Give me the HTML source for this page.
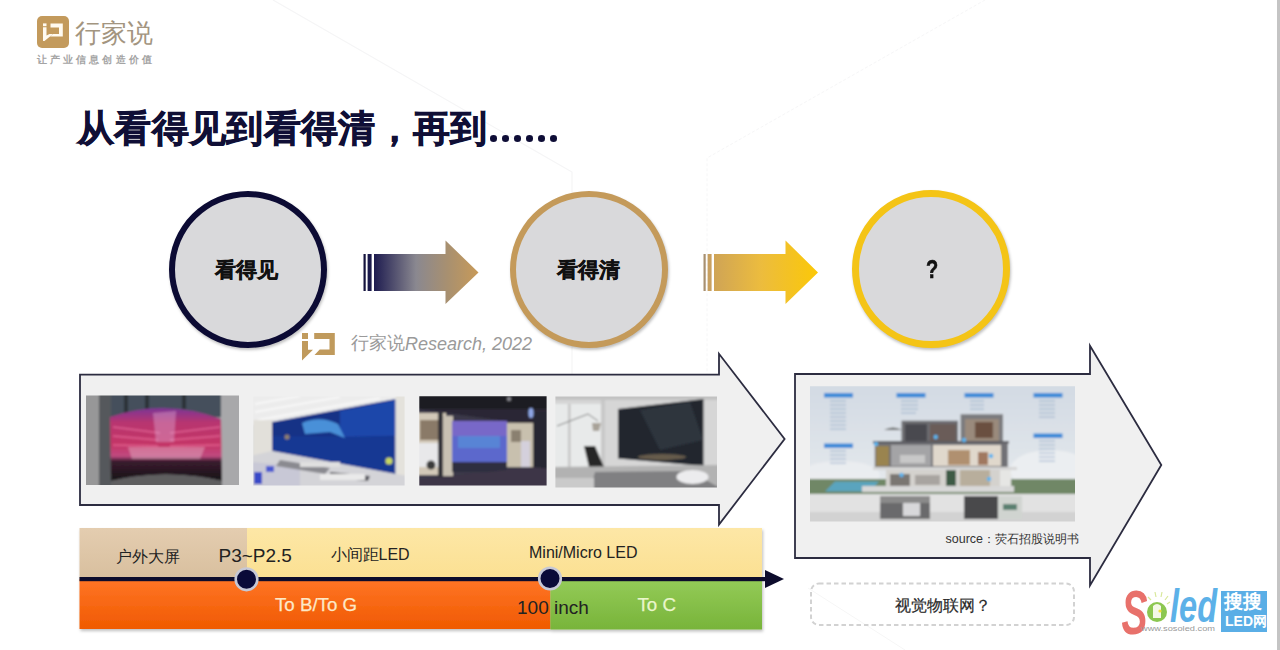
<!DOCTYPE html>
<html><head><meta charset="utf-8">
<style>
html,body{margin:0;padding:0;}
body{width:1280px;height:650px;position:relative;overflow:hidden;background:#fff;font-family:"Liberation Sans",sans-serif;}
.a{position:absolute;}
.t{position:absolute;white-space:nowrap;line-height:1;}
.circ{position:absolute;border-radius:50%;background:#d9d9db;box-sizing:border-box;box-shadow:1px 2px 3px rgba(0,0,0,0.25);}
</style></head><body>

<!-- faint bg lines -->
<svg class="a" style="left:0;top:0;" width="1280" height="650">
<path d="M273 0 L572 172 V375" stroke="#f5f5f6" stroke-width="1.2" fill="none"/>
<path d="M985 0 L707 158 V375" stroke="#f6f6f7" stroke-width="1" fill="none" stroke-dasharray="3 2"/>
<path d="M808 588 L905 650" stroke="#f6f6f6" stroke-width="1" fill="none"/>
</svg>
<!-- right edge strip -->
<div class="a" style="left:1277px;top:0;width:3px;height:650px;background:#c4c4c4;"></div>

<!-- logo -->
<div class="a" style="left:37px;top:16px;width:32px;height:32px;border-radius:5px;background:#c39a5c;"></div>
<div class="t" style="left:75px;top:19.5px;font-size:26px;color:#a39580;font-weight:300;">行家说</div>
<div class="t" style="left:37px;top:54.5px;font-size:10px;color:#a4a4a4;letter-spacing:3.1px;font-weight:bold;">让产业信息创造价值</div>

<!-- title -->
<div class="t" style="left:77px;top:110px;font-size:37px;font-weight:900;color:#100f36;-webkit-text-stroke:0.7px #100f36;letter-spacing:0.35px;">从看得见到看得清，再到</div>
<div class="a" style="left:490.2px;top:135px;width:7px;height:6.6px;border-radius:50%;background:#0e0d36;"></div><div class="a" style="left:502.2px;top:135px;width:7px;height:6.6px;border-radius:50%;background:#0e0d36;"></div><div class="a" style="left:514.2px;top:135px;width:7px;height:6.6px;border-radius:50%;background:#0e0d36;"></div><div class="a" style="left:526.2px;top:135px;width:7px;height:6.6px;border-radius:50%;background:#0e0d36;"></div><div class="a" style="left:538.2px;top:135px;width:7px;height:6.6px;border-radius:50%;background:#0e0d36;"></div><div class="a" style="left:550.2px;top:135px;width:7px;height:6.6px;border-radius:50%;background:#0e0d36;"></div>

<!-- circles -->
<div class="circ" style="left:169px;top:191px;width:158px;height:157px;border:6.5px solid #0c0b34;"></div>
<div class="circ" style="left:510px;top:191px;width:158px;height:157px;border:6px solid #c49a5a;"></div>
<div class="circ" style="left:852px;top:190px;width:158px;height:158px;border:7px solid #f4c416;"></div>
<div class="t" style="left:215px;top:258.5px;font-size:21px;font-weight:bold;color:#111;-webkit-text-stroke:0.4px #111;">看得见</div>
<div class="t" style="left:556.5px;top:259px;font-size:21px;font-weight:bold;color:#111;-webkit-text-stroke:0.4px #111;">看得清</div>
<div class="t" style="left:925.5px;top:257px;font-size:25px;font-weight:bold;color:#111;transform:scaleX(0.8);-webkit-text-stroke:0.6px #111;transform-origin:left top;">?</div>


<!-- small arrows -->
<svg class="a" style="left:0;top:0;" width="1280" height="650">
<defs>
<linearGradient id="g1" x1="374" y1="0" x2="479" y2="0" gradientUnits="userSpaceOnUse">
<stop offset="0" stop-color="#1e1c50"/><stop offset="0.4" stop-color="#8a8890"/><stop offset="0.7" stop-color="#a89070"/><stop offset="1" stop-color="#c89a58"/></linearGradient>
<linearGradient id="g2" x1="714" y1="0" x2="818" y2="0" gradientUnits="userSpaceOnUse">
<stop offset="0" stop-color="#cfa456"/><stop offset="0.45" stop-color="#ecbc3e"/><stop offset="1" stop-color="#fbc808"/></linearGradient>
</defs>
<rect x="363.5" y="254" width="2.2" height="37" fill="#14133d"/>
<rect x="367.6" y="254" width="4" height="37" fill="#1b1a4c"/>
<path d="M374 254 H445.5 V240.5 L478.5 272.5 L445.5 304 V291 H374 Z" fill="url(#g1)"/>
<rect x="703.5" y="254" width="2.2" height="37" fill="#a89070"/>
<rect x="707.6" y="254" width="4" height="37" fill="#c8a060"/>
<path d="M714 254 H785.5 V240.5 L818 272.5 L785.5 304 V291 H714 Z" fill="url(#g2)"/>
</svg>

<!-- watermark -->
<svg class="a" style="left:0;top:0;" width="1280" height="650">
<g fill="#c09a5c">
<rect x="302" y="333" width="6" height="6"/>
<path d="M302 341 H308 V349.7 H313 L302 360.5 Z"/>
<path d="M314.2 333 H334.8 V355 H314.5 L319.7 349.4 H329.5 V339 H314.2 Z"/>
</g>
<!-- logo icon white shape -->
<g fill="#fffaf0">
<rect x="43" y="23.4" width="3.5" height="2.8"/>
<path d="M43 27.2 H46.5 V35.5 L49.5 33.9 H53 L44.5 41 H43 Z"/>
<path d="M50.5 23.4 H62.8 V36.6 H50 L53 33.9 H59 V27.4 H50.5 Z"/>
</g>
</svg>
<div class="t" style="left:350.5px;top:334.5px;font-size:17.5px;color:#9a9a9a;font-family:'Liberation Serif',serif;font-weight:300;">行家说</div>
<div class="t" style="left:405px;top:334.5px;font-size:18px;color:#9a9a9a;font-style:italic;">Research, 2022</div>

<!-- big arrows -->
<svg class="a" style="left:0;top:0;" width="1280" height="650">
<path d="M80 374.6 H719 V353.8 L784.6 439 L719 524.6 V505 H80 Z" fill="#f0f0f0" stroke="#2c2c40" stroke-width="1.8"/>
<path d="M795 374 H1090 V345.8 L1161.3 465 L1090 585.5 V558 H795 Z" fill="#f0f0f0" stroke="#2c2c40" stroke-width="1.8"/>
</svg>

<!-- photos -->
<svg class="a" style="left:0;top:0;" width="1280" height="650">
<defs>
<filter id="bl" x="-10%" y="-10%" width="120%" height="120%"><feGaussianBlur stdDeviation="0.9"/></filter>
<clipPath id="c1"><rect x="86" y="395.5" width="153" height="89.5"/></clipPath>
<clipPath id="c2"><rect x="253.3" y="396.5" width="151.3" height="89"/></clipPath>
<clipPath id="c3"><rect x="419.3" y="396.2" width="127.3" height="89.2"/></clipPath>
<clipPath id="c4"><rect x="555.4" y="396.6" width="161.6" height="90.8"/></clipPath>
<clipPath id="c5"><rect x="810" y="386.2" width="265" height="135.4"/></clipPath>
<linearGradient id="scr1" x1="0" y1="0" x2="0" y2="1">
<stop offset="0" stop-color="#7c3496"/><stop offset="0.2" stop-color="#b83470"/><stop offset="0.5" stop-color="#c43466"/><stop offset="0.66" stop-color="#c04a80"/><stop offset="0.73" stop-color="#3a1c2e"/><stop offset="1" stop-color="#161216"/></linearGradient>
<linearGradient id="sky5" x1="0" y1="0" x2="0" y2="1">
<stop offset="0" stop-color="#d2dae3"/><stop offset="0.7" stop-color="#e4e8ec"/><stop offset="1" stop-color="#eceef0"/></linearGradient>
<linearGradient id="tv4" x1="0" y1="0" x2="0" y2="1">
<stop offset="0" stop-color="#1e232c"/><stop offset="0.7" stop-color="#2e3238"/><stop offset="0.85" stop-color="#8a7a62"/><stop offset="1" stop-color="#252525"/></linearGradient>
</defs>

<g clip-path="url(#c1)"><g filter="url(#bl)">
<rect x="84" y="393" width="158" height="95" fill="#8a8a8c"/>
<rect x="84" y="393" width="16" height="95" fill="#979798"/>
<rect x="99" y="393" width="12" height="95" fill="#55585c"/>
<rect x="220" y="393" width="22" height="95" fill="#a8a8aa"/>
<rect x="111" y="393" width="110" height="24" fill="#44505c"/>
<rect x="124" y="393" width="4" height="20" fill="#2a3038"/>
<rect x="145" y="393" width="4" height="16" fill="#2a3038"/>
<rect x="182" y="393" width="4" height="16" fill="#2a3038"/>
<path d="M110 417 Q165 398 221 419 L222 481 Q165 468 111 481 Z" fill="url(#scr1)"/>
<path d="M113 427 L160 433 M113 436 L158 440 M113 445 L158 446 M170 433 L220 427 M170 440 L220 436 M170 446 L220 445" stroke="#f47aa8" stroke-width="1.6" opacity="0.6"/>
<path d="M153 413 L176 411 L174 442 L156 442 Z" fill="#e0b0d8" opacity="0.4"/>
<path d="M128 447 L205 447 L200 459 L132 459 Z" fill="#f0d8e0" opacity="0.35"/>
<path d="M111 481 Q165 468 222 481 L222 488 L111 488 Z" fill="#5e5e60"/>
</g></g>
<g clip-path="url(#c2)"><g filter="url(#bl)">
<rect x="250" y="393" width="158" height="96" fill="#d6d6d8"/>
<path d="M250 393 H408 V400 L272 425 H250 Z" fill="#ececec"/>
<path d="M255 404 L300 396 M255 412 L340 397 M258 420 L380 398 M266 425 L395 401" stroke="#fbfbfb" stroke-width="1.4"/>
<rect x="253" y="420" width="20" height="40" fill="#e2e0da"/>
<path d="M272 422 L395.5 399 L395.5 474 L272 451 Z" fill="#173286"/>
<path d="M340 411 L395.5 400 L395.5 436 L340 437 Z" fill="#1e46aa"/><path d="M272 436 L395.5 437 L395.5 474 L272 451 Z" fill="#1a3a98" opacity="0.7"/>
<path d="M302 423 Q320 415 338 424 L345 438 L330 432 L305 434 Z" fill="#4a90d8"/>
<circle cx="287" cy="437" r="2.5" fill="#c0a060" opacity="0.7"/>
<circle cx="389" cy="461" r="3.5" fill="#c8d860"/>
<rect x="395.5" y="393" width="13" height="96" fill="#e4e2dc"/>
<path d="M250 456 L272 451 L395.5 474 L408 476 V489 H250 Z" fill="#d4d4d8"/>
<path d="M250 462 L300 466 L300 489 L250 489 Z" fill="#c8c8d6"/><path d="M280 460 L330 468 L325 474 L276 466 Z" fill="#8a8a90"/><path d="M330 472 L370 476 L368 481 L330 478 Z" fill="#5a5a60"/>
<rect x="254" y="472" width="8" height="12" fill="#3848c8"/>
<rect x="266" y="466" width="8" height="6" fill="#4858d0"/>
<rect x="320" y="474" width="45" height="6" fill="#eaeaea"/>
<rect x="300" y="462" width="40" height="5" fill="#e0e0e0"/>
</g></g>

<g clip-path="url(#c3)"><g filter="url(#bl)">
<rect x="416" y="393" width="134" height="96" fill="#2a2834"/>
<rect x="416" y="393" width="134" height="16" fill="#1c1c24"/>
<circle cx="509" cy="399" r="2" fill="#d8d8e0" opacity="0.6"/>
<path d="M416 409 L536 425 L536 470 L416 482 Z" fill="#3a3848"/>
<rect x="416" y="413" width="30" height="62" fill="#d2c8b8"/>
<rect x="420" y="420" width="18" height="20" fill="#8a7a68"/>
<rect x="416" y="443" width="28" height="24" fill="#e8e8ea"/>
<circle cx="431" cy="465" r="4.5" fill="#3a3a3a"/>
<rect x="438" y="413" width="5" height="68" fill="#303038"/>
<rect x="443" y="416" width="10" height="60" fill="#c8c0b2"/>
<rect x="452" y="421" width="55" height="41" fill="#5c68cc"/>
<rect x="452" y="421" width="55" height="15" fill="#7868c8"/>
<rect x="458" y="436" width="42" height="12" fill="#5890d8" opacity="0.7"/>
<rect x="452" y="462" width="55" height="10" fill="#2e2e40"/>
<rect x="507" y="423" width="26" height="44" fill="#c8c0ae"/>
<rect x="511" y="430" width="10" height="12" fill="#8a8070"/>
<rect x="533" y="412" width="17" height="62" fill="#282830"/>
<ellipse cx="531" cy="413" rx="2.5" ry="5" fill="#90a8e8"/>
<path d="M416 480 L533 467 L550 469 V489 H416 Z" fill="#3c3446"/>
<rect x="521" y="441" width="9" height="26" fill="#d4d0dc"/>
</g></g>

<g clip-path="url(#c4)"><g filter="url(#bl)">
<rect x="552" y="393" width="168" height="98" fill="#d6d6d6"/>
<rect x="552" y="393" width="168" height="7" fill="#c2c2c2"/>
<rect x="552" y="404" width="50" height="64" fill="#e8eaea"/>
<rect x="568" y="404" width="2.5" height="64" fill="#c6c6c6"/>
<rect x="601" y="400" width="4" height="68" fill="#c8c8c8"/>
<path d="M557 426 L588 414 L598 421" stroke="#7a7a7a" stroke-width="1" fill="none"/>
<path d="M592 423 L601 423 L599 431 L593 431 Z" fill="#a8a298"/>
<path d="M618 409 L703.5 399 L703.5 466 L618 458.6 Z" fill="#23272f"/>
<path d="M640 410 L690 402 L703 440 L660 450 Z" fill="#353a42" opacity="0.7"/>
<ellipse cx="662" cy="457" rx="24" ry="3" fill="#8a785c" opacity="0.65"/>
<path d="M584 446 L595 446 L604 467 L589 467 Z" fill="#262626"/>
<path d="M552 467 L720 465 V491 H552 Z" fill="#b2b2b2"/>
<path d="M595 472 L690 471 L720 488 V491 L590 491 Z" fill="#808082"/>
<rect x="552" y="478" width="42" height="13" fill="#cacaca"/>
<ellipse cx="692.5" cy="477" rx="16" ry="7" fill="#ececee"/>
</g></g>

<g clip-path="url(#c5)"><g filter="url(#bl)">
<rect x="807" y="383" width="271" height="142" fill="url(#sky5)"/>
<ellipse cx="1050" cy="470" rx="40" ry="20" fill="#eef0f2" opacity="0.8"/>
<ellipse cx="840" cy="475" rx="40" ry="14" fill="#eef0f2" opacity="0.7"/>
<rect x="807" y="479" width="271" height="15" fill="#6f8766"/>
<path d="M825 491.5 L835 481.5 L879 481.5 L870 491.5 Z" fill="#5aa4be"/>
<rect x="807" y="494" width="271" height="31" fill="#e2e2e2"/>
<rect x="807" y="512" width="271" height="13" fill="#c8c8c8" opacity="0.6"/>
<rect x="880" y="496" width="50" height="23" fill="#6a6a6c"/>
<rect x="880" y="496" width="50" height="7" fill="#8a8a8a"/>
<rect x="903" y="503" width="17" height="13" fill="#d8d8da"/>
<rect x="964" y="496" width="34" height="23" fill="#4a4a4c"/>
<rect x="998" y="496" width="24" height="23" fill="#d0d4d0"/>
<rect x="1003" y="504" width="14" height="6" fill="#5a8070"/>
<rect x="901.5" y="420.7" width="56.5" height="21.3" fill="#6c6c70"/>
<rect x="905" y="424" width="22" height="17" fill="#4a4a50"/>
<rect x="930" y="424" width="26" height="17" fill="#6a5c58"/>
<rect x="960.6" y="414.2" width="42.4" height="27.8" fill="#7a7a7e"/>
<rect x="965" y="419" width="34" height="22" fill="#9a8a7c"/>
<rect x="975" y="422" width="18" height="16" fill="#6a5040"/>
<path d="M884 430 Q893 425 902 430 Z" fill="#666"/>
<rect x="873" y="441" width="136" height="2.5" fill="#5a5a5e"/>
<rect x="874.8" y="443" width="133" height="24" fill="#707074"/>
<rect x="876" y="446" width="13" height="20" fill="#9a8450"/>
<rect x="891" y="445" width="40" height="21" fill="#a4a4a6"/>
<rect x="900" y="455" width="25" height="8" fill="#c8c8c8"/>
<rect x="933" y="445" width="68" height="21" fill="#e0d8cc"/>
<rect x="948" y="450" width="22" height="15" fill="#b09070"/>
<rect x="978" y="452" width="10" height="13" fill="#a07860"/>
<rect x="873" y="467" width="144" height="3" fill="#d6d6d6"/>
<rect x="886" y="470" width="125" height="18" fill="#d4d2ce"/>
<rect x="890" y="474" width="20" height="12" fill="#7a7672"/>
<rect x="915" y="475" width="25" height="10" fill="#a8a4a0"/>
<rect x="946" y="470" width="10" height="17" fill="#3c5a44"/>
<rect x="960" y="470" width="30" height="17" fill="#b8ae9c"/>
<rect x="1000" y="470" width="11" height="18" fill="#e6e6e4"/>
<rect x="862" y="486" width="152" height="6" fill="#d8d8d8"/>
<g fill="#5ab4ee">
<circle cx="876" cy="444" r="2.2"/><circle cx="935.7" cy="437" r="2.2"/><circle cx="964" cy="440" r="2.2"/>
<circle cx="991" cy="456" r="2.2"/><circle cx="901.5" cy="475" r="2.2"/><circle cx="989" cy="479" r="2.2"/>
</g>
<g fill="#3a8ad8">
<rect x="824" y="393" width="29" height="4.5"/>
<rect x="896.5" y="393" width="29" height="4.5"/>
<rect x="964.5" y="393" width="29" height="4.5"/>
<rect x="1033.5" y="393" width="29" height="4.5"/>
<rect x="824" y="443.5" width="29" height="4.5"/>
<rect x="1033.5" y="433.5" width="29" height="4.5"/>
</g>
<g stroke="#8aa4c4" stroke-width="1" opacity="0.8">
<path d="M830 401H846 M830 405H846 M830 409H846 M830 413H846 M830 417H846 M830 421H846 M830 425H846 M830 429H846"/>
<path d="M901 401H918 M901 405H918 M901 409H918 M901 413H916"/>
<path d="M970 401H984 M970 405H984 M970 409H984"/>
<path d="M1039 401H1055 M1039 405H1055 M1039 409H1055 M1039 413H1055 M1039 417H1055"/>
<path d="M830 451H846 M830 455H846 M830 459H846 M830 463H846"/>
<path d="M1039 441H1055 M1039 445H1055 M1039 449H1055 M1039 453H1055 M1039 457H1055 M1039 461H1055"/>
</g>
</g></g>
</svg>
<div class="t" style="left:945.5px;top:533px;font-size:12.5px;color:#333;">source<span style="font-size:12px;">：荧石招股说明书</span></div>

<!-- timeline -->
<svg class="a" style="left:0;top:0;" width="1280" height="650">
<defs>
<linearGradient id="tan" x1="0" y1="0" x2="0" y2="1"><stop offset="0" stop-color="#e4cdb0"/><stop offset="1" stop-color="#d8bf9e"/></linearGradient>
<linearGradient id="yel" x1="0" y1="0" x2="0" y2="1"><stop offset="0" stop-color="#fde7a6"/><stop offset="1" stop-color="#fbe092"/></linearGradient>
<linearGradient id="org" x1="0" y1="0" x2="0" y2="1"><stop offset="0" stop-color="#ff7526"/><stop offset="1" stop-color="#f05a00"/></linearGradient>
<linearGradient id="grn" x1="0" y1="0" x2="0" y2="1"><stop offset="0" stop-color="#94cb58"/><stop offset="1" stop-color="#78b43a"/></linearGradient>
<filter id="sh" x="-5%" y="-20%" width="110%" height="140%"><feDropShadow dx="1" dy="2" stdDeviation="1.5" flood-color="#000" flood-opacity="0.25"/></filter>
</defs>
<g filter="url(#sh)">
<rect x="79.5" y="528" width="167.5" height="51" fill="url(#tan)"/>
<rect x="247" y="528" width="515" height="51" fill="url(#yel)"/>
<rect x="79.5" y="579" width="471" height="50" fill="url(#org)"/>
<rect x="550.4" y="579" width="211.6" height="50.5" fill="url(#grn)"/>
</g>
<rect x="79.5" y="577" width="687" height="4.2" fill="#0d0c2c"/>
<path d="M765 570 L784 579 L765 588 Z" fill="#0d0c2c"/>
<circle cx="246.5" cy="579.3" r="10.8" fill="#0a0a38" stroke="#c6c8d6" stroke-width="2.6"/>
<circle cx="550" cy="578.5" r="10.8" fill="#0a0a38" stroke="#c6c8d6" stroke-width="2.6"/>
</svg>
<div class="t" style="left:116px;top:548.5px;font-size:16px;color:#222;">户外大屏</div>
<div class="t" style="left:218.5px;top:545.5px;font-size:19px;color:#222;">P3~P2.5</div>
<div class="t" style="left:330.5px;top:547px;font-size:16px;color:#222;">小间距LED</div>
<div class="t" style="left:529px;top:545px;font-size:16px;color:#222;">Mini/Micro LED</div>
<div class="t" style="left:275px;top:596px;font-size:18.7px;color:#fde8c8;-webkit-text-stroke:0.25px #fde8c8;">To B/To G</div>
<div class="t" style="left:517px;top:597.5px;font-size:19px;color:#222;">100 inch</div>
<div class="t" style="left:637.5px;top:596px;font-size:18.7px;color:#eaf6cc;-webkit-text-stroke:0.25px #eaf6cc;">To C</div>

<!-- dashed box -->
<svg class="a" style="left:0;top:0;" width="1280" height="650"><rect x="811" y="583.5" width="263" height="41.5" rx="8" fill="none" stroke="#d2d2d2" stroke-width="2" stroke-dasharray="4.5 3"/></svg>
<div class="t" style="left:895px;top:598px;font-size:16px;color:#2a2a2a;-webkit-text-stroke:0.2px #2a2a2a;">视觉物联网？</div>

<!-- soled logo -->
<svg class="a" style="left:0;top:0;" width="1280" height="650">
<text x="0" y="0" font-family="Liberation Sans" font-weight="bold" font-style="italic" font-size="46" fill="#e8716b" textLength="26" lengthAdjust="spacingAndGlyphs" transform="translate(1121.5,634) scale(1,1.38)">S</text>
<g stroke="#d8e89a" stroke-width="1.2">
<path d="M1148 597 L1151 600 M1155 592 L1156 597 M1162 592 L1161 597 M1168 596 L1165 600 M1170 602 L1167 604"/>
</g>
<circle cx="1157" cy="612" r="10" fill="#8cc751"/>
<path d="M1153 606 Q1157 602 1161 606 L1161 618 H1153 Z" fill="#f4f8e8"/>
<circle cx="1160" cy="611" r="1.6" fill="#f0e040"/>
<text x="1170" y="621.5" font-family="Liberation Sans" font-weight="bold" font-style="italic" font-size="46" fill="#5cb1e8" textLength="47" lengthAdjust="spacingAndGlyphs">led</text>
<text x="1141" y="631" font-family="Liberation Sans" font-size="8" fill="#9a9a9a" textLength="74" lengthAdjust="spacingAndGlyphs">www.sosoled.com</text>
</svg>
<div class="a" style="left:1221px;top:591px;width:46px;height:40.5px;background:#5aaee6;"></div>
<div class="t" style="left:1224px;top:592px;font-size:19px;font-weight:bold;color:#fff;">搜搜</div>
<div class="t" style="left:1225px;top:613.5px;font-size:14px;font-weight:bold;color:#fff;">LED网</div>
</body></html>
